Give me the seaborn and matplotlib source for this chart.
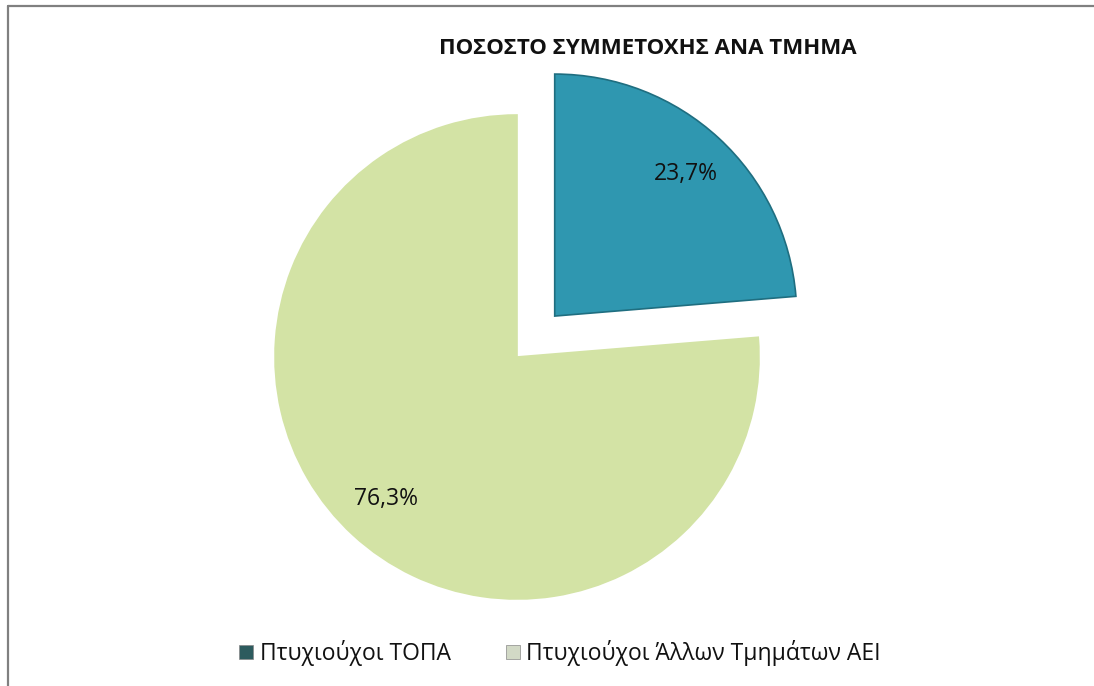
#!/usr/bin/env python3

import seaborn as sns
from matplotlib import pyplot as plt
from matplotlib.lines import Line2D
from matplotlib.patches import Patch

# data
groups = ["Πτυχιούχοι ΤΟΠΑ", "Πτυχιούχοι Άλλων Τμημάτων ΑΕΙ"]
shares = [23.7, 76.3]
title = "ΠΟΣΟΣΤΟ ΣΥΜΜΕΤΟΧΗΣ ΑΝΑ ΤΜΗΜΑ"

slice_colors = ["#2f97b0", "#d3e3a5"]
edge_colors = ["#1f6e80", "#d3e3a5"]
legend_colors = ["#2d5b5e", "#d2d9c6"]


def pct_label(p):
    return "{:.1f}%".format(p).replace(".", ",")


sns.set_theme(style="white")
plt.rcParams["font.family"] = ["Open Sans", "DejaVu Sans"]

W, H = 1094, 686
fig = plt.figure(figsize=(W / 100, H / 100), dpi=100)
fig.patch.set_facecolor("white")

# axes covering whole figure, 1 unit = pie radius in pixels
cx, cy, r = 517, 357, 242
ax = fig.add_axes([0, 0, 1, 1])
ax.axis("off")

wedges, texts, autotexts = ax.pie(
    shares, colors=slice_colors, startangle=90, counterclock=False,
    explode=[0.23, 0], autopct=pct_label, pctdistance=0.8, radius=1,
    wedgeprops=dict(linewidth=1.2), textprops=dict(fontsize=16.5, color="#111111"))
for w, ec in zip(wedges, edge_colors):
    w.set_edgecolor(ec)
ax.set_xlim(-cx / r, (W - cx) / r)
ax.set_ylim(-(H - cy) / r, cy / r)

fig.text(648 / W, 1 - 48 / H, title, ha="center", va="center",
         fontsize=16, fontweight="bold", color="#111111")

handles = [Patch(facecolor=c, edgecolor="#888888", linewidth=0.5)
           for c in legend_colors]
fig.legend(handles, groups, loc="center", bbox_to_anchor=(560 / W, 1 - 653 / H),
           ncol=2, frameon=False, fontsize=16.5, handlelength=0.6,
           handleheight=0.6, handletextpad=0.3, columnspacing=2.4,
           labelcolor="#111111")

# frame lines
fig.add_artist(Line2D([8 / W, 1], [1 - 6 / H, 1 - 6 / H], color="#808080",
                      linewidth=1.6, transform=fig.transFigure))
fig.add_artist(Line2D([8 / W, 8 / W], [0, 1 - 6 / H], color="#808080",
                      linewidth=1.6, transform=fig.transFigure))

fig.savefig("out.png", dpi=100)
